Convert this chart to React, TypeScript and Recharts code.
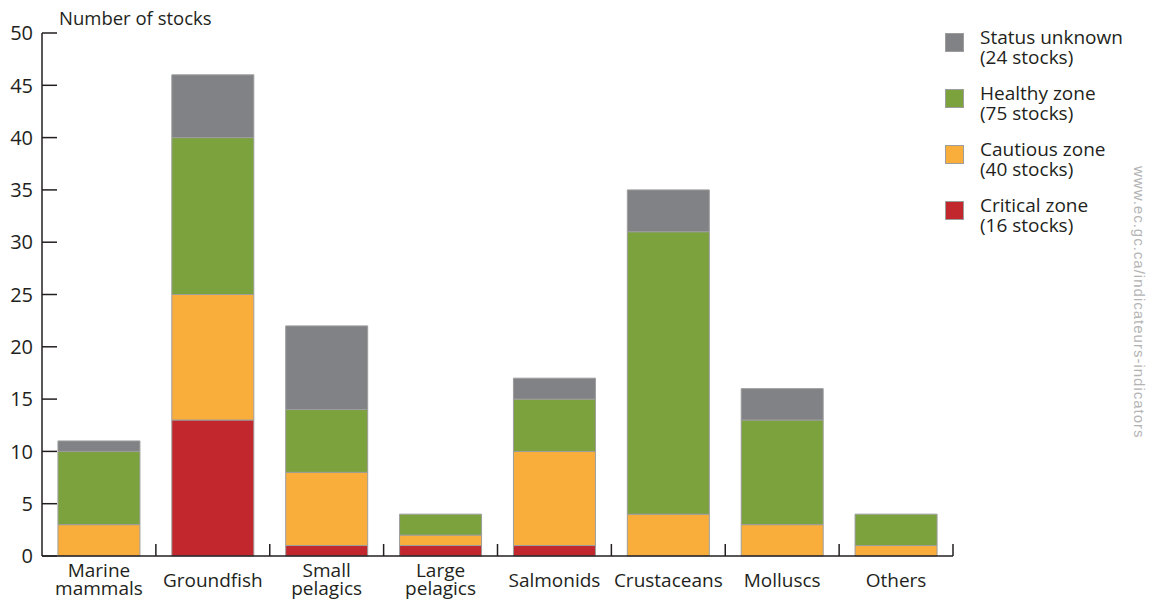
import React from 'react';
import { BarChart, Bar, XAxis, YAxis } from 'recharts';

const categories = ['Marine mammals', 'Groundfish', 'Small pelagics', 'Large pelagics', 'Salmonids', 'Crustaceans', 'Molluscs', 'Others'];
const critical = [0, 13, 1, 1, 1, 0, 0, 0];
const cautious = [3, 12, 7, 1, 9, 4, 3, 1];
const healthy = [7, 15, 6, 2, 5, 27, 10, 3];
const unknown = [1, 6, 8, 0, 2, 4, 3, 0];
const yTicks = [0, 5, 10, 15, 20, 25, 30, 35, 40, 45, 50];

const seriesKeys = ['critical', 'cautious', 'healthy', 'unknown'];
const seriesNames = ['Critical zone', 'Cautious zone', 'Healthy zone', 'Status unknown'];
const seriesColors = ['#c1272d', '#f9ae3b', '#7ba23c', '#808285'];
const seriesValues = [critical, cautious, healthy, unknown];

const data = categories.map((c, i) => ({
  category: c,
  critical: critical[i],
  cautious: cautious[i],
  healthy: healthy[i],
  unknown: unknown[i],
}));

const totals = seriesValues.map((arr) => arr.reduce((a, b) => a + b, 0));

const FONT = '"Open Sans", "Noto Sans", sans-serif';
const TEXT = '#231f20';

function YTick(props: any) {
  const { x, y, payload } = props;
  return (
    <g>
      <line x1={x} x2={x + 15} y1={y} y2={y} stroke={TEXT} strokeWidth={1.5} />
      <text x={x - 9} y={y} dy="0.36em" textAnchor="end" fontSize={20} fill={TEXT} fontFamily={FONT}>
        {payload.value}
      </text>
    </g>
  );
}

function XTick(props: any) {
  const { x, y, payload, width, visibleTicksCount } = props;
  const half = (width || 911) / (visibleTicksCount || categories.length) / 2;
  const words = String(payload.value).split(' ');
  const baselines = words.length === 1 ? [31] : [21, 39];
  return (
    <g>
      <line x1={x + half} x2={x + half} y1={y} y2={y - 12} stroke={TEXT} strokeWidth={1.5} />
      {words.map((w, i) => (
        <text key={i} x={x} y={y + baselines[i]} textAnchor="middle" fontSize={19} fill={TEXT} fontFamily={FONT}>
          {w}
        </text>
      ))}
    </g>
  );
}

function LegendBlock() {
  const order = [3, 2, 1, 0];
  return (
    <div style={{ position: 'absolute', left: 945, top: 27, fontFamily: FONT, color: TEXT, fontSize: 19, lineHeight: '20px', whiteSpace: 'nowrap' }}>
      {order.map((idx) => (
        <div key={idx} style={{ display: 'flex', alignItems: 'flex-start', marginBottom: 16 }}>
          <div style={{ width: 17, height: 17, background: seriesColors[idx], border: '1px solid #9d9d9d', marginTop: 6, marginRight: 16, flex: 'none' }} />
          <div>
            <div>{seriesNames[idx]}</div>
            <div>({totals[idx]} stocks)</div>
          </div>
        </div>
      ))}
    </div>
  );
}

export default function App() {
  return (
    <div style={{ position: 'absolute', left: 0, top: 0, width: 1153, height: 600, background: '#fff' }}>
      <div style={{ position: 'absolute', left: 59, top: 9, fontFamily: FONT, fontSize: 18.5, lineHeight: '18px', color: TEXT, whiteSpace: 'nowrap' }}>
        Number of stocks
      </div>
      <div style={{ position: 'absolute', left: 1131, top: 166, writingMode: 'vertical-rl', fontFamily: '"Liberation Sans", Arial, sans-serif', fontSize: 15, letterSpacing: 1, color: '#b4b4b4', whiteSpace: 'nowrap' }}>
        www.ec.gc.ca/indicateurs-indicators
      </div>
      <LegendBlock />
      <BarChart width={1153} height={600} data={data} margin={{ top: 33, right: 200, bottom: 0, left: 0 }} barCategoryGap="14%">
        <XAxis
          dataKey="category"
          height={44}
          interval={0}
          tickLine={false}
          tickSize={0}
          tickMargin={0}
          tick={<XTick />}
          axisLine={{ stroke: TEXT, strokeWidth: 1.5 }}
        />
        <YAxis
          width={42}
          domain={[0, 50]}
          ticks={yTicks}
          interval={0}
          tickLine={false}
          tickSize={0}
          tickMargin={0}
          tick={<YTick />}
          axisLine={{ stroke: TEXT, strokeWidth: 1.5 }}
        />
        {seriesKeys.map((k, i) => (
          <Bar
            key={k}
            dataKey={k}
            name={seriesNames[i]}
            stackId="a"
            fill={seriesColors[i]}
            stroke="#9d9d9d"
            strokeWidth={1}
            isAnimationActive={false}
          />
        ))}
      </BarChart>
    </div>
  );
}
